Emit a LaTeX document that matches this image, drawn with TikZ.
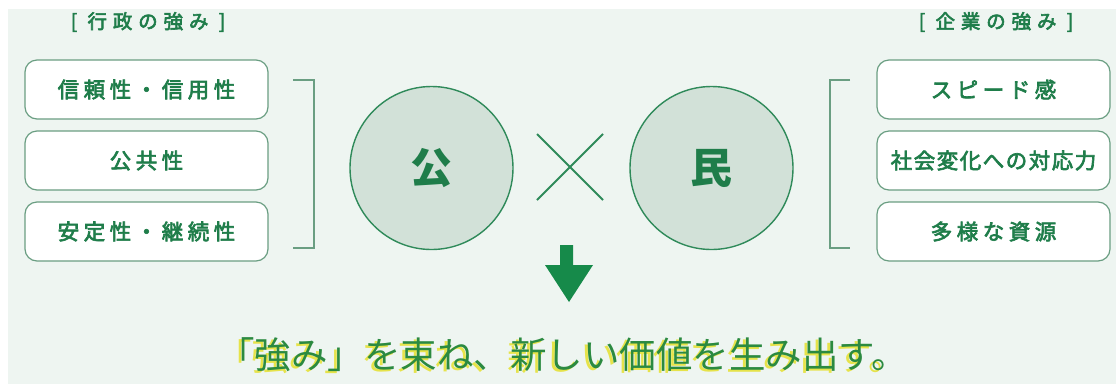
\documentclass[tikz,border=0pt]{standalone}
\usepackage{fontspec}
\usetikzlibrary{calc}
\newfontfamily\jp{Noto Sans CJK JP}
\newfontfamily\jpm[FakeBold=3]{Noto Sans CJK JP}
\definecolor{bgmint}{HTML}{EEF5F1}
\definecolor{txtgreen}{HTML}{1F7D4A}
\definecolor{boxc}{HTML}{6A9E82}
\definecolor{circc}{HTML}{2F8A5A}
\definecolor{circfill}{HTML}{D2E1D8}
\definecolor{arrowc}{HTML}{168A4A}
\definecolor{bottomgreen}{HTML}{2B8A40}
\definecolor{shadowy}{HTML}{E6E34A}
\begin{document}
\begin{tikzpicture}[x=1pt,y=-1pt,
  every node/.style={inner sep=0pt, font=\jp},
  sbox/.style={draw=boxc, line width=1.2pt, fill=white, rounded corners=12pt, minimum height=59pt, text=txtgreen, font=\jpm\fontsize{21.5}{24}\selectfont},
  lbox/.style={sbox, minimum width=243pt},
  rbox/.style={sbox, minimum width=233pt},
  header/.style={text=txtgreen, font=\jpm\fontsize{19.5}{22}\selectfont},
  bracketline/.style={draw=boxc, line width=1.2pt},
  bigcirc/.style={circle, draw=circc, line width=1.4pt, fill=circfill, minimum size=163pt, text=txtgreen, font=\jp\bfseries\fontsize{42}{46}\selectfont},
  crossline/.style={draw=circc, line width=2pt},
  bottomtext/.style={font=\jp\fontsize{36.5}{40}\selectfont, anchor=west}
]
\useasboundingbox (0,0) rectangle (1116,384);
\fill[white] (0,0) rectangle (1116,384);
\fill[bgmint] (8,9) rectangle (1116,384);

% headers
\node[header] (hl) at (148,22) {\addfontfeature{LetterSpace=30}[\ 行政の強み\ ]};
\node[header] (hr) at (996,22) {\addfontfeature{LetterSpace=30}[\ 企業の強み\ ]};

% left boxes
\node[lbox] (l1) at (146.5,89.5) {\addfontfeature{LetterSpace=21}信頼性・信用性};
\node[lbox] (l2) at (146.5,160.5) {\addfontfeature{LetterSpace=21}公共性};
\node[lbox] (l3) at (146.5,231.5) {\addfontfeature{LetterSpace=21}安定性・継続性};

% right boxes
\node[rbox] (r1) at (993.5,89.5) {\addfontfeature{LetterSpace=21}スピード感};
\node[rbox] (r2) at (993.5,160.5) {\addfontfeature{LetterSpace=7}社会変化への対応力};
\node[rbox] (r3) at (993.5,231.5) {\addfontfeature{LetterSpace=21}多様な資源};

% brackets
\draw[bracketline] (293,80) -- (314,80) -- (314,248) -- (293,248);
\draw[bracketline] (850,80) -- (830,80) -- (830,248) -- (850,248);

% circles
\node[bigcirc] (kou) at (431.5,168) {公};
\node[bigcirc] (min) at (711.5,168) {民};

% cross
\coordinate (xc) at (570,167);
\draw[crossline] ($(xc)+(-33,-33)$) -- ($(xc)+(33,33)$);
\draw[crossline] ($(xc)+(-33,33)$) -- ($(xc)+(33,-33)$);

% arrow
\fill[arrowc] (560,245) -- (573,245) -- (573,265) -- (593,265) -- (569,302) -- (545,265) -- (560,265) -- cycle;

% bottom text
\node[bottomtext, text=shadowy] (bts) at (215,357) {「強み」を束ね、新しい価値を生み出す。};
\node[bottomtext, text=bottomgreen] (bt) at (218,355) {「強み」を束ね、新しい価値を生み出す。};
\end{tikzpicture}
\end{document}
